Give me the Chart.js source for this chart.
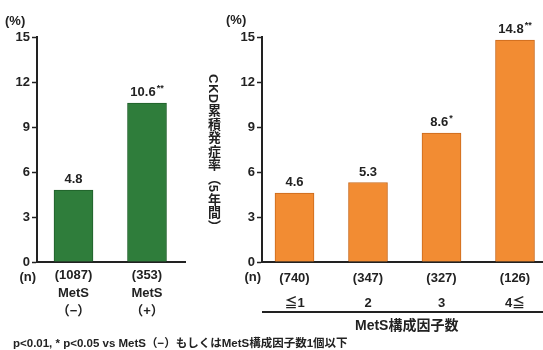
<!DOCTYPE html>
<html>
<head>
<meta charset="utf-8">
<script src="https://cdn.jsdelivr.net/npm/chart.js@4"></script>
<style>
  html, body { margin: 0; padding: 0; background: #fff; }
  body { width: 543px; height: 350px; overflow: hidden; position: relative;
         font-family: "Liberation Sans", Arial, "Noto Sans CJK JP", sans-serif; color: #222; }
  .pane { position: absolute; top: 0; }
  .txt { position: absolute; font-weight: bold; white-space: nowrap; }
  .vtitle { position: absolute; writing-mode: vertical-rl; text-orientation: mixed;
            font-family: "Liberation Sans", "Noto Sans CJK JP", sans-serif; font-weight: bold;
            font-size: 13px; letter-spacing: 0.5px; color: #222; }
</style>
</head>
<body>
<div class="pane" style="left:0;width:200px;height:350px"><canvas id="c1" width="200" height="350"></canvas></div>
<div class="pane" style="left:200px;width:343px;height:350px"><canvas id="c2" width="343" height="350"></canvas></div>

<div class="txt" style="left:5px;top:13px;font-size:13px">(%)</div>
<div class="txt" style="left:226px;top:12px;font-size:13px">(%)</div>
<div class="vtitle" style="left:204px;top:74px">CKD累積発症率（5年間）</div>
<div style="position:absolute;left:262px;top:311px;width:281px;height:2px;background:#222"></div>
<div class="txt" style="left:355px;top:314px;font-size:14px;font-family:'Liberation Sans','Noto Sans CJK JP',sans-serif">MetS構成因子数</div>
<div class="txt" style="left:13px;top:334px;font-size:11.5px;font-family:'Liberation Sans','Noto Sans CJK JP',sans-serif">p&lt;0.01, * p&lt;0.05 vs MetS（−）もしくはMetS構成因子数1個以下</div>

<script>
// CKD 5-year cumulative incidence (%) by MetS status
const metsGroups = [["MetS", "（−）"], ["MetS", "（+）"]];
const metsN = ["(1087)", "(353)"];
const metsRate = [4.8, 10.6];
const metsMark = ["", "**"];

// CKD 5-year cumulative incidence (%) by number of MetS components
const compGroups = ["≦1", "2", "3", "4≦"];
const compN = ["(740)", "(347)", "(327)", "(126)"];
const compRate = [4.6, 5.3, 8.6, 14.8];
const compMark = ["", "", "*", "**"];

const yTicks = [0, 3, 6, 9, 12, 15];

const FONT = "'Liberation Sans', Arial, 'Noto Sans CJK JP', sans-serif";
const INK = "#222";

// value label above each bar, with significance marks as a small superscript
const valueLabels = {
  id: "valueLabels",
  afterDatasetsDraw(chart, args, opts) {
    const ctx = chart.ctx;
    const meta = chart.getDatasetMeta(0);
    const ds = chart.data.datasets[0];
    ctx.save();
    meta.data.forEach((bar, i) => {
      const v = ds.data[i].y.toFixed(1);
      const mk = opts.marks[i] || "";
      ctx.font = "bold 13px " + FONT;
      const w1 = ctx.measureText(v).width;
      ctx.font = "bold 9px " + FONT;
      const w2 = mk ? ctx.measureText(mk).width + 1 : 0;
      const x0 = bar.x - (w1 + w2) / 2;
      const y = bar.y - 10.5;
      ctx.fillStyle = INK;
      ctx.textBaseline = "middle";
      ctx.textAlign = "left";
      ctx.font = "bold 13px " + FONT;
      ctx.fillText(v, x0, y);
      if (mk) {
        ctx.font = "bold 9px " + FONT;
        ctx.fillText(mk, x0 + w1 + 1, y - 4);
      }
    });
    // "(n)" row caption next to the axis
    ctx.font = "bold 13px " + FONT;
    ctx.textAlign = "right";
    ctx.textBaseline = "middle";
    ctx.fillText("(n)", chart.chartArea.left - 1, opts.nRowY);
    ctx.restore();
  }
};

function makeChart(id, rates, marks, labelLines, color, border, xmin, xmax, yWidth, padRight, lineH, nRowY) {
  return new Chart(document.getElementById(id), {
    type: "bar",
    data: {
      datasets: [{
        data: rates.map((v, i) => ({ x: i, y: v })),
        backgroundColor: color,
        borderColor: border,
        borderWidth: 1,
        barThickness: 39
      }]
    },
    options: {
      responsive: false,
      animation: false,
      layout: { padding: { left: 0, right: padRight, top: 37, bottom: 0 } },
      plugins: {
        legend: { display: false },
        tooltip: { enabled: false },
        valueLabels: { marks: marks, nRowY: nRowY }
      },
      scales: {
        x: {
          type: "linear",
          min: xmin, max: xmax,
          offset: false,
          grid: { display: false, offset: false, drawTicks: false },
          border: { display: true, color: INK, width: 2 },
          afterBuildTicks: s => { s.ticks = rates.map((_, i) => ({ value: i })); },
          afterFit: s => { s.height = 88; },
          ticks: {
            autoSkip: false,
            maxRotation: 0,
            padding: 4,
            color: INK,
            font: { family: FONT, size: 13, weight: "bold", lineHeight: lineH + "px" },
            callback: v => labelLines(v)
          }
        },
        y: {
          min: 0, max: 15,
          afterBuildTicks: s => { s.ticks = yTicks.map(v => ({ value: v })); },
          afterFit: s => { s.width = yWidth; },
          grid: { display: true, drawOnChartArea: false, drawTicks: true, tickLength: 5, tickWidth: 1.5, tickColor: INK },
          border: { display: true, color: INK, width: 2 },
          ticks: { padding: 2, color: INK, font: { family: FONT, size: 13, weight: "bold" } }
        }
      }
    },
    plugins: [valueLabels]
  });
}

// left panel: axis at x=37, bars centred 73.5 px apart
makeChart("c1", metsRate, metsMark,
  i => [metsN[i], metsGroups[i][0], metsGroups[i][1]],
  "#2f7d3b", "#1f5f2a",
  (37 - 73.5) / 73.5, (185 - 73.5) / 73.5, 37, 15, 18, 277);

// right panel: axis at x=262 (62 px into its canvas)
makeChart("c2", compRate, compMark,
  i => [compN[i], compGroups[i]],
  "#f28c33", "#c9691c",
  (262 - 294.5) / 73.5, (543 - 294.5) / 73.5, 62, 0, 25, 277);
</script>
</body>
</html>
